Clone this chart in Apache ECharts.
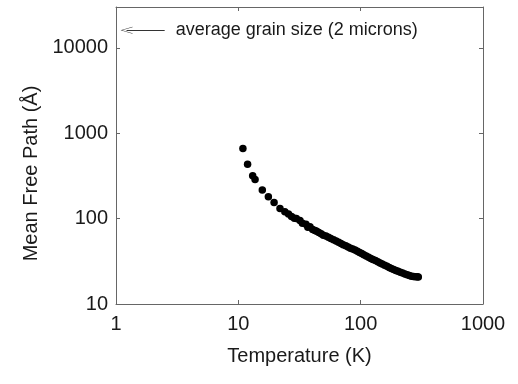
<!DOCTYPE html>
<html>
<head>
<meta charset="utf-8">
<script src="https://cdn.jsdelivr.net/npm/echarts@6/dist/echarts.min.js"></script>
<style>
  html, body { margin: 0; padding: 0; background: #fff; }
  #chart { width: 518px; height: 384px; }
</style>
</head>
<body>
<div id="chart"></div>
<script>
// temperature (K) and mean free path (Angstrom)
var temperature = [10.9, 11.9, 13.1, 13.7, 15.7, 17.6, 19.6, 21.9, 24.0, 25.7,
    27.2, 28.7, 29.8, 31.9, 33.4, 35.7, 37.0, 38.5, 40.5, 42.3,
    43.7, 45.5, 47.5, 49.5, 52, 54.5, 57, 60, 63, 66,
    69, 72, 75.5, 79, 82.5, 86, 90, 94, 98, 102,
    106, 111, 116, 121, 126, 132, 138, 144, 150, 157,
    164, 171, 178, 186, 194, 202, 211, 220, 230, 240,
    250, 260, 270, 280, 290, 296];
var mfp = [662, 432, 318, 286, 216, 180, 154, 131, 120, 113,
    106, 101, 100, 95, 88, 86, 79, 80, 74.5, 72.5,
    71, 68.5, 66.5, 64, 62.5, 60.5, 58.5, 56.5, 54.5, 53,
    51, 49.5, 48, 46.5, 45, 44, 42.8, 41.5, 40.2, 39,
    37.8, 36.4, 35.2, 34, 33.2, 32.2, 31.2, 30.2, 29.3, 28.4,
    27.6, 26.8, 26, 25.3, 24.6, 24.1, 23.5, 23, 22.4, 22,
    21.6, 21.2, 21, 20.9, 20.8, 20.7];

var xRange = [1, 1000];
var yRange = [10, 30000];
// arrow annotation: grain size marker
var grainArrow = { x0: 1.22, x1: 2.5, y: 16000, text: 'average grain size (2 microns)' };

var points = temperature.map(function (t, i) { return [t, mfp[i]]; });

var font = 'Liberation Sans, Arial, sans-serif';
var lineCol = '#666';
var textCol = '#1a1a1a';

function baseAxis(pos) {
    return {
        type: 'log',
        logBase: 10,
        position: pos,
        axisLine: { show: true, onZero: false, lineStyle: { color: lineCol, width: 1 } },
        axisTick: { show: true, inside: true, length: 4, lineStyle: { color: lineCol } },
        minorTick: { show: false },
        splitLine: { show: false }
    };
}

var myChart = echarts.init(document.getElementById('chart'));

var xMain = baseAxis('bottom');
xMain.min = xRange[0];
xMain.max = xRange[1];
xMain.name = 'Temperature (K)';
xMain.nameLocation = 'middle';
xMain.nameGap = 42;
xMain.nameTextStyle = { fontFamily: font, fontSize: 20, color: textCol };
xMain.axisLabel = { margin: 10, fontFamily: font, fontSize: 20, color: textCol,
    formatter: function (v) { return String(Math.round(v)); } };

var xTop = baseAxis('top');
xTop.min = xRange[0];
xTop.max = xRange[1];
xTop.axisLabel = { show: false };

var yMain = baseAxis('left');
yMain.min = yRange[0];
yMain.max = yRange[1];
yMain.name = 'Mean Free Path (Å)';
yMain.nameLocation = 'middle';
yMain.nameGap = 70;
yMain.nameTextStyle = { fontFamily: font, fontSize: 20, color: textCol, padding: [0, 36, 0, 0] };
yMain.axisLabel = { margin: 8, fontFamily: font, fontSize: 20, color: textCol, showMaxLabel: false,
    formatter: function (v) { return String(Math.round(v)); } };

var yRight = baseAxis('right');
yRight.min = yRange[0];
yRight.max = yRange[1];
yRight.axisLabel = { show: false };

option = {
    animation: false,
    backgroundColor: '#fff',
    grid: { left: 116, right: 35, top: 7, bottom: 80 },
    xAxis: [xMain, xTop],
    yAxis: [yMain, yRight],
    series: [{
        type: 'scatter',
        xAxisIndex: 0,
        yAxisIndex: 0,
        symbol: 'circle',
        symbolSize: 7.5,
        itemStyle: { color: '#000', opacity: 1 },
        data: points,
        markLine: {
            silent: true,
            animation: false,
            symbol: ['path://M0,12 L5,0 L10,12 L9.3,12 L5,1.6 L0.7,12 Z', 'none'],
            symbolSize: [7, 12],
            lineStyle: { color: '#333', width: 1, type: 'solid' },
            label: {
                show: true,
                position: 'end',
                distance: 11,
                fontFamily: font,
                fontSize: 18,
                color: textCol,
                formatter: grainArrow.text
            },
            data: [[
                { coord: [grainArrow.x0, grainArrow.y] },
                { coord: [grainArrow.x1, grainArrow.y] }
            ]]
        }
    }]
};

myChart.setOption(option, true);
</script>
</body>
</html>
